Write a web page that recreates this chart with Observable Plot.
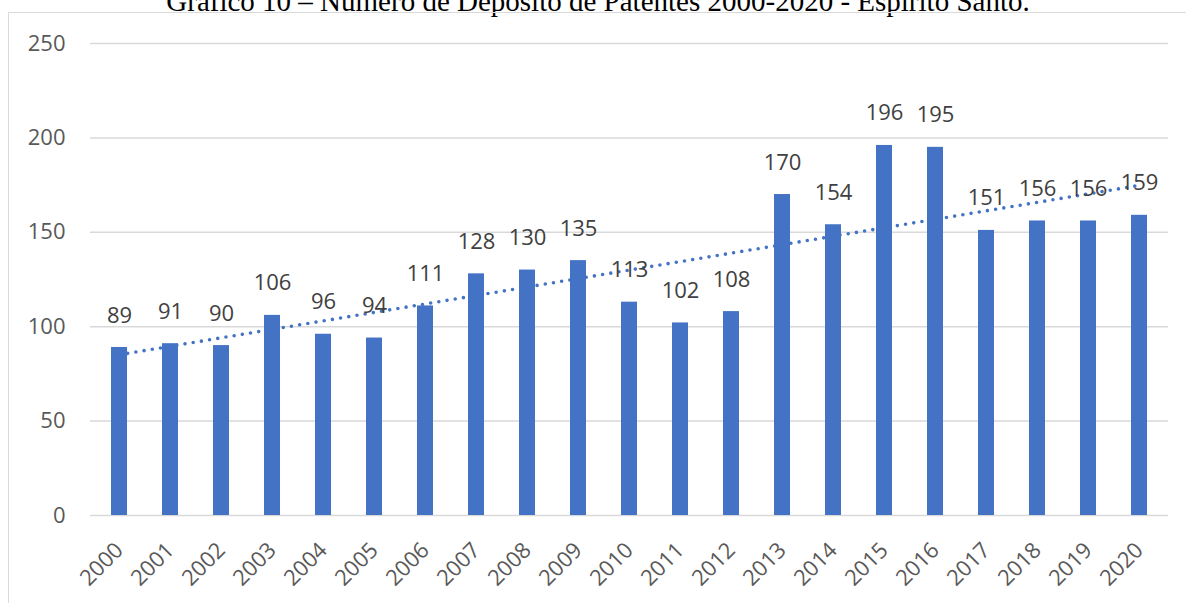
<!DOCTYPE html>
<html>
<head>
<meta charset="utf-8">
<script src="https://cdn.jsdelivr.net/npm/d3@7"></script>
<script src="https://cdn.jsdelivr.net/npm/@observablehq/plot@0.6"></script>
<style>
  html, body { margin: 0; padding: 0; background: #fff; overflow: hidden; }
  #wrap { position: relative; width: 1186px; height: 603px; overflow: hidden; }
  #title { position: absolute; left: 5px; top: -13px; width: 1186px; text-align: center;
           font-family: "Liberation Serif", "Times New Roman", serif; font-size: 29px; line-height: 29px; color: #000; white-space: nowrap; }
  #frame { position: absolute; left: 8px; top: 12px; width: 1300px; height: 700px; border: 1.5px solid #d9d9d9; box-sizing: border-box; }
  #chart { position: absolute; left: 0; top: 0; }
</style>
</head>
<body>
<div id="wrap">
  <div id="title">Gráfico 10 – Número de Depósito de Patentes 2000-2020 - Espírito Santo.</div>
  <div id="frame"></div>
  <div id="chart"></div>
</div>
<script>
const years = ["2000","2001","2002","2003","2004","2005","2006","2007","2008","2009","2010","2011","2012","2013","2014","2015","2016","2017","2018","2019","2020"];
const deposits = [89, 91, 90, 106, 96, 94, 111, 128, 130, 135, 113, 102, 108, 170, 154, 196, 195, 151, 156, 156, 159];
const yTicks = [0, 50, 100, 150, 200, 250];

const data = years.map((y, i) => ({year: y, value: deposits[i], i}));

// linear trend (least squares) computed from the data
const mx = d3.mean(data, d => d.i), my = d3.mean(data, d => d.value);
const slope = d3.sum(data, d => (d.i - mx) * (d.value - my)) / d3.sum(data, d => (d.i - mx) ** 2);
const intercept = my - slope * mx;
const trend = data.map(d => ({year: d.year, value: intercept + slope * d.i}));

const font = "'Open Sans', 'Noto Sans', sans-serif";

const chart = Plot.plot({
  width: 1186,
  height: 603,
  marginLeft: 90,
  marginRight: 18,
  marginTop: 43,
  marginBottom: 88,
  style: {fontFamily: font, background: "transparent", overflow: "visible"},
  x: {domain: years, paddingInner: 0.68, paddingOuter: 0.34, label: null},
  y: {domain: [0, 250], label: null},
  marks: [
    Plot.gridY(yTicks, {stroke: "#d9d9d9", strokeOpacity: 1, strokeWidth: 1.5}),
    Plot.axisY(yTicks, {tickSize: 0, tickPadding: 25, fontSize: 22, fill: "#595959", label: null}),
    Plot.axisX({tickSize: 0, tickPadding: 31, tickRotate: -45, fontSize: 22, fill: "#595959", label: null}),
    Plot.line(trend, {x: "year", y: "value", stroke: "#4472c4", strokeWidth: 3.6, strokeDasharray: "0 8.3", strokeLinecap: "round"}),
    Plot.barY(data, {x: "year", y: "value", fill: "#4472c4"}),
    Plot.text(data, {x: "year", y: "value", text: d => String(d.value), dy: -32, fontSize: 22, fill: "#404040"})
  ]
});
document.getElementById("chart").appendChild(chart);
</script>
</body>
</html>
